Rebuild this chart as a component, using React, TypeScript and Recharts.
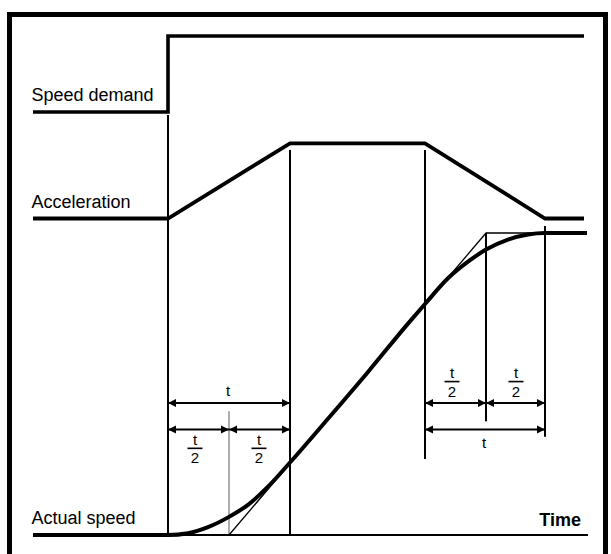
import { ComposedChart, Line, Scatter, XAxis, YAxis } from 'recharts';

// time in ms, 0 = demand step. levels are normalised 0..1 per trace
const DEMAND_T = [-135, 0, 0, 416];
const DEMAND_V = [0, 0, 1, 1];

const ACCEL_T = [-135, 0, 122, 257, 377, 416];
const ACCEL_V = [0, 0, 1, 1, 0, 0];

const SPEED_T = [-135, 0, 20, 40, 61, 80, 100, 122, 160, 200, 240, 257, 280, 300, 318, 340, 360, 377, 419];
const SPEED_V = [0, 0, 0.006, 0.026, 0.06, 0.1, 0.16, 0.24, 0.385, 0.54, 0.7, 0.765, 0.85, 0.905, 0.945, 0.978, 0.995, 1, 1];

// linear ramp the S-curve is built around
const RAMP_T = [61, 318, 377];
const RAMP_V = [0, 1, 1];

const TIME_AXIS_T = [0, 420];

// vertical markers (speed-lane units)
const GUIDE_T = [0, 122, 257, 318, 377];
const GUIDE_FROM = [0, 0, 0.252, 0.377, 0.325];
const GUIDE_TO = [1.391, 1.275, 1.275, 1.0, 1.023];
const HALF_T = 61;
const HALF_TO = 0.41;

// dimension arrows
const DIM_FROM = [0, 0, 61, 257, 318, 257];
const DIM_TO = [122, 61, 122, 318, 377, 377];
const DIM_LEVEL = [0.437, 0.349, 0.349, 0.437, 0.437, 0.349];

const DIM_LABEL_T = [60, 27, 91, 284, 348, 316];
const DIM_LABEL_V = [0.46, 0.287, 0.287, 0.508, 0.508, 0.288];
const DIM_LABEL_HALF = [false, true, true, true, true, false];

const LANE_NAMES = ['Speed demand', 'Acceleration', 'Actual speed'];

const W = 611;
const H = 554;
// pixel baseline / top of each lane
const LANES: Record<string, [number, number]> = {
  demand: [112, 36],
  accel: [218.5, 143.3],
  speed: [535, 233],
};

function laneDomain([base, top]: [number, number]): [number, number] {
  const s = base - top;
  const max = 1 + top / s;
  return [max - H / s, max];
}

const zip = (ts: number[], vs: number[]) => ts.map((t, i) => ({ t, v: vs[i] }));

const FONT = '"Liberation Sans", Arial, sans-serif';

const Arrows = (p: any) => {
  const { cx, cy, index } = p;
  const d = index === 0
    ? `M${cx},${cy} L${cx + 8},${cy - 4} L${cx + 8},${cy + 4} Z`
    : `M${cx},${cy} L${cx - 8},${cy - 4} L${cx - 8},${cy + 4} Z`;
  return <path key={`a${index}`} d={d} fill="#000" />;
};

const DimLabel = (p: any) => {
  const { cx, cy, payload } = p;
  if (!payload.half) {
    return (
      <text x={cx} y={cy} textAnchor="middle" fontFamily={FONT} fontSize={15} fill="#000">t</text>
    );
  }
  return (
    <g>
      <text x={cx} y={cy - 3.5} textAnchor="middle" fontFamily={FONT} fontSize={15} fill="#000">t</text>
      <line x1={cx - 7.5} x2={cx + 7.5} y1={cy} y2={cy} stroke="#000" strokeWidth={1.6} />
      <text x={cx} y={cy + 15} textAnchor="middle" fontFamily={FONT} fontSize={15} fill="#000">2</text>
    </g>
  );
};

const LaneLabel = (p: any) => (
  <text x={p.cx} y={p.cy - 11} fontFamily={FONT} fontSize={18} fill="#000">{p.payload.text}</text>
);

const TimeLabel = (p: any) => (
  <text x={p.cx} y={p.cy - 9} textAnchor="end" fontFamily={FONT} fontSize={18} fontWeight="bold" fill="#000">Time</text>
);

export default function App() {
  const dims = DIM_FROM.map((f, i) => [{ t: f, v: DIM_LEVEL[i] }, { t: DIM_TO[i], v: DIM_LEVEL[i] }]);
  const guides = GUIDE_T.map((t, i) => [{ t, v: GUIDE_FROM[i] }, { t, v: GUIDE_TO[i] }]);
  const dimLabels = DIM_LABEL_T.map((t, i) => ({ t, v: DIM_LABEL_V[i], half: DIM_LABEL_HALF[i] }));
  const laneKeys = ['demand', 'accel', 'speed'];

  return (
    <div style={{ position: 'absolute', left: 0, top: 0, width: W, height: H, overflow: 'hidden', background: '#fff' }}>
      <div style={{ position: 'absolute', left: 7, top: 12, width: 591, height: 600, border: '5px solid #000' }} />
      <div style={{ position: 'absolute', left: 0, top: 0 }}>
        <ComposedChart width={W} height={H} margin={{ top: 0, right: 0, bottom: 0, left: 0 }}>
          <XAxis type="number" dataKey="t" domain={[-168, W - 168]} hide allowDataOverflow />
          {laneKeys.map((k) => (
            <YAxis key={k} yAxisId={k} type="number" dataKey="v" domain={laneDomain(LANES[k])} hide allowDataOverflow />
          ))}

          <Line yAxisId="demand" data={zip(DEMAND_T, DEMAND_V)} dataKey="v" type="linear" stroke="#000"
            strokeWidth={3.6} dot={false} activeDot={false} isAnimationActive={false} />
          <Line yAxisId="accel" data={zip(ACCEL_T, ACCEL_V)} dataKey="v" type="linear" stroke="#000"
            strokeWidth={3.8} dot={false} activeDot={false} isAnimationActive={false} />

          {guides.map((g, i) => (
            <Line key={`g${i}`} yAxisId="speed" data={g} dataKey="v" type="linear" stroke="#000"
              strokeWidth={2} dot={false} activeDot={false} isAnimationActive={false} />
          ))}
          <Line yAxisId="speed" data={[{ t: HALF_T, v: 0 }, { t: HALF_T, v: HALF_TO }]} dataKey="v" type="linear"
            stroke="#999" strokeWidth={1.6} dot={false} activeDot={false} isAnimationActive={false} />

          <Line yAxisId="speed" data={zip(TIME_AXIS_T, [0, 0])} dataKey="v" type="linear" stroke="#000"
            strokeWidth={2.2} dot={false} activeDot={false} isAnimationActive={false} />
          <Line yAxisId="speed" data={zip(RAMP_T, RAMP_V)} dataKey="v" type="linear" stroke="#000"
            strokeWidth={1.3} dot={false} activeDot={false} isAnimationActive={false} />
          <Line yAxisId="speed" data={zip(SPEED_T, SPEED_V)} dataKey="v" type="monotoneX" stroke="#000"
            strokeWidth={4} dot={false} activeDot={false} isAnimationActive={false} />

          {dims.map((d, i) => (
            <Line key={`d${i}`} yAxisId="speed" data={d} dataKey="v" type="linear" stroke="#000"
              strokeWidth={2} dot={Arrows} activeDot={false} isAnimationActive={false} />
          ))}

          <Scatter yAxisId="speed" data={dimLabels} dataKey="v" shape={DimLabel} isAnimationActive={false} />
          {laneKeys.map((k, i) => (
            <Scatter key={`l${k}`} yAxisId={k} data={[{ t: -136.5, v: 0, text: LANE_NAMES[i] }]} dataKey="v"
              shape={LaneLabel} isAnimationActive={false} />
          ))}
          <Scatter yAxisId="speed" data={[{ t: 413, v: 0 }]} dataKey="v" shape={TimeLabel} isAnimationActive={false} />
        </ComposedChart>
      </div>
    </div>
  );
}
